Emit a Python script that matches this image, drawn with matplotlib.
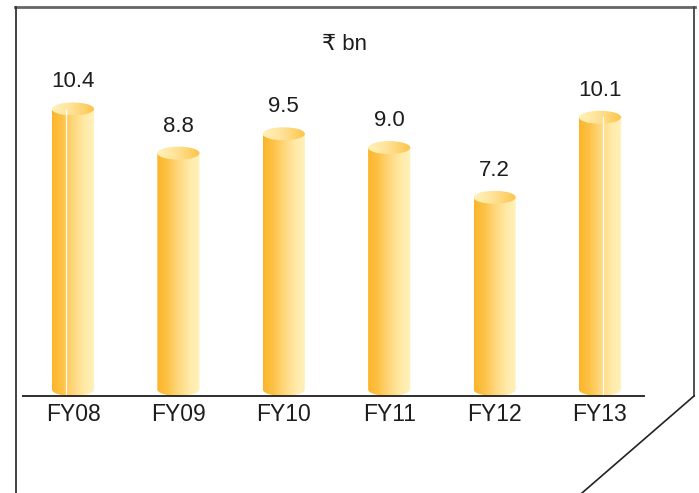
import numpy as np
import matplotlib
matplotlib.use("Agg")
import matplotlib.pyplot as plt
from matplotlib.path import Path
from matplotlib.patches import PathPatch, Ellipse
from matplotlib.lines import Line2D
from matplotlib.colors import LinearSegmentedColormap

# Data
years = ["FY08", "FY09", "FY10", "FY11", "FY12", "FY13"]
values = [10.4, 8.8, 9.5, 9.0, 7.2, 10.1]
unit_label = "\u20b9 bn"

# Styling
W, H, DPI = 699, 493, 100
FONT = ["Liberation Sans", "DejaVu Sans"]
TEXT_COLOR = "#1f1c1d"
bar_w = 0.40
cap_px = 6.5                 # half-height of the cylinder cap in pixels
highlight = {0: -0.07, 5: 0.025}  # thin white streak offsets for some bars

body_cmap = LinearSegmentedColormap.from_list(
    "body", ["#fcb52a", "#fdc348", "#ffd77f", "#ffe9a6", "#fff3bf"])
cap_cmap = LinearSegmentedColormap.from_list(
    "cap", ["#fff2bc", "#ffe092", "#fdc345"])

fig = plt.figure(figsize=(W / DPI, H / DPI), dpi=DPI)
fig.patch.set_facecolor("white")

# axes placement in pixels
ax_left, ax_right = 22, 645
ax_bottom, ax_top = 396, 7
ax = fig.add_axes([ax_left / W, (H - ax_bottom) / H,
                   (ax_right - ax_left) / W, (ax_bottom - ax_top) / H])
px_per_x = 105.4
px_per_y = 27.6
x0_px = 73
ax.set_xlim((ax_left - x0_px) / px_per_x, (ax_right - x0_px) / px_per_x)
ax.set_ylim(0, (ax_bottom - ax_top) / px_per_y)
ax.axis("off")

eh = cap_px / px_per_y  # cap half-height in data units
grad = np.linspace(0, 1, 256).reshape(1, -1)

for i, (lab, v) in enumerate(zip(years, values)):
    cx = i
    xl, xr = cx - bar_w / 2, cx + bar_w / 2
    # cylinder body with rounded bottom
    th = np.linspace(np.pi, 2 * np.pi, 60)
    bx = cx + bar_w / 2 * np.cos(th)
    by = eh + eh * np.sin(th)
    verts = list(zip(bx, by)) + [(xr, v), (xl, v), (bx[0], by[0])]
    codes = [Path.MOVETO] + [Path.LINETO] * (len(verts) - 2) + [Path.CLOSEPOLY]
    body = PathPatch(Path(verts, codes), facecolor="none", edgecolor="none")
    ax.add_patch(body)
    im = ax.imshow(grad, cmap=body_cmap, extent=[xl, xr, 0, v],
                   aspect="auto", interpolation="bilinear", zorder=2)
    im.set_clip_path(body)

    # cap
    cap = Ellipse((cx, v), bar_w, 2 * eh, facecolor="none", edgecolor="none")
    ax.add_patch(cap)
    imc = ax.imshow(grad, cmap=cap_cmap, extent=[xl, xr, v - eh, v + eh],
                    aspect="auto", interpolation="bilinear", zorder=3)
    imc.set_clip_path(cap)

    if i in highlight:
        hx = cx + highlight[i]
        ax.plot([hx, hx], [0.05, v], color="white", lw=0.9, alpha=0.9, zorder=4)

    ax.annotate(f"{v:.1f}", xy=(cx, v), xytext=(0, 19.5), textcoords="offset points",
                ha="center", va="center", fontsize=16, family=FONT, color=TEXT_COLOR)

# category labels under the baseline
for i, lab in enumerate(years):
    ax.annotate(lab, xy=(i, 0), xytext=(0, -13), textcoords="offset points",
                ha="center", va="center", fontsize=16.5, family=FONT, color=TEXT_COLOR,
                annotation_clip=False)

# baseline
ax.plot([ax.get_xlim()[0], ax.get_xlim()[1]], [0, 0], color=TEXT_COLOR,
        lw=1.3, zorder=5, clip_on=False, solid_capstyle="butt")

# unit label
fig.text(344 / W, 1 - 45 / H, unit_label, ha="center", va="center",
         fontsize=16, family=FONT, color=TEXT_COLOR)

# frame around the panel, with a clipped bottom-right corner
def fline(xs, ys, **kw):
    fig.add_artist(Line2D([x / W for x in xs], [1 - y / H for y in ys],
                          transform=fig.transFigure, **kw))

fline([15, 695], [7, 7], color="#666666", lw=2.0)
fline([16, 16], [7, 493], color="#333333", lw=1.3)
fline([694, 694], [7, 396], color="#444444", lw=1.3)
fline([694, 582], [396, 493], color="#222222", lw=1.2)

fig.savefig("out.png", dpi=DPI, facecolor="white")
